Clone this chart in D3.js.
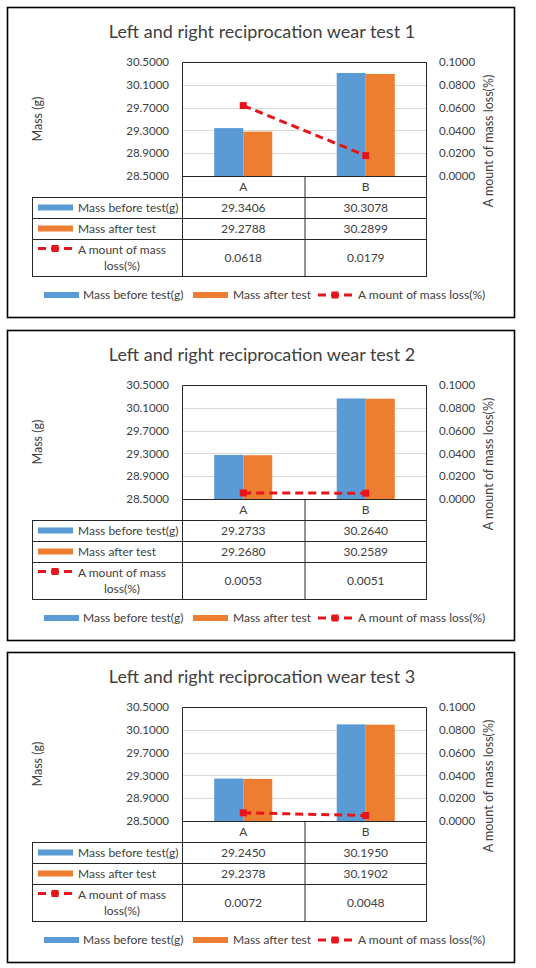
<!DOCTYPE html>
<html>
<head>
<meta charset="utf-8">
<script src="https://cdn.jsdelivr.net/npm/d3@7"></script>
<style>
  html, body { margin: 0; padding: 0; background: #fff; }
  svg { display: block; }
  text { font-family: Lato, "Open Sans", sans-serif; fill: #404040; }
</style>
</head>
<body>
<svg id="chart" width="536" height="968"></svg>
<script>
// ---- data ----
const categories = ["A", "B"];
const titles = [
  "Left and right reciprocation wear test 1",
  "Left and right reciprocation wear test 2",
  "Left and right reciprocation wear test 3"
];
const massBefore = [
  [29.3406, 30.3078],
  [29.2733, 30.2640],
  [29.2450, 30.1950]
];
const massAfter = [
  [29.2788, 30.2899],
  [29.2680, 30.2589],
  [29.2378, 30.1902]
];
const massLoss = [
  [0.0618, 0.0179],
  [0.0053, 0.0051],
  [0.0072, 0.0048]
];
const leftTicks = [28.5, 28.9, 29.3, 29.7, 30.1, 30.5];
const rightTicks = [0.0, 0.02, 0.04, 0.06, 0.08, 0.1];
const seriesNames = ["Mass before test(g)", "Mass after test", "A mount of mass loss(%)"];
const leftTitle = "Mass (g)";
const rightTitle = "A mount of mass loss(%)";

// ---- style / layout ----
const BLUE = "#5B9BD5", ORANGE = "#ED7D31", RED = "#E8141B", GRID = "#D9D9D9";
const panelTops = [7, 330, 652];
const panelH = 310;

const svg = d3.select("#chart");

panelTops.forEach((T, pi) => {
  const g = svg.append("g").attr("transform", `translate(0,${T})`);

  // frame
  g.append("rect").attr("x", 7.5).attr("y", 0.5).attr("width", 507).attr("height", panelH)
    .attr("fill", "#fff").attr("stroke", "#000").attr("stroke-width", 1.6);

  // title
  g.append("text").attr("x", 262).attr("y", 31).attr("text-anchor", "middle")
    .style("font-size", "18px").text(titles[pi]);

  const plotL = 182, plotR = 427, plotT = 55, plotB = 169;
  const x = d3.scaleBand().domain(categories).range([plotL, plotR]);
  const xs = d3.scaleBand().domain([0, 1]).range([0, x.bandwidth()]).paddingInner(0).paddingOuter(1.11);
  const yL = d3.scaleLinear().domain([28.5, 30.5]).range([plotB, plotT]);
  const yR = d3.scaleLinear().domain([0, 0.1]).range([plotB, plotT]);

  // gridlines
  g.append("g").selectAll("line").data(leftTicks.slice(1, -1)).join("line")
    .attr("x1", plotL).attr("x2", plotR)
    .attr("y1", d => Math.round(yL(d)) + 0.5).attr("y2", d => Math.round(yL(d)) + 0.5)
    .attr("stroke", GRID).attr("stroke-width", 1);

  // left axis
  const axL = d3.axisLeft(yL).tickValues(leftTicks).tickSize(0).tickPadding(13)
    .tickFormat(d3.format(".4f"));
  const gl = g.append("g").attr("transform", `translate(${plotL},0)`).call(axL);
  gl.select(".domain").remove();
  gl.selectAll("text").style("font-size", "11.5px").style("font-family", "Lato, sans-serif").attr("fill", "#404040");

  // right axis
  const axR = d3.axisRight(yR).tickValues(rightTicks).tickSize(0).tickPadding(12)
    .tickFormat(d3.format(".4f"));
  const gr = g.append("g").attr("transform", `translate(${plotR},0)`).call(axR);
  gr.select(".domain").remove();
  gr.selectAll("text").style("font-size", "11.5px").style("font-family", "Lato, sans-serif").attr("fill", "#404040");

  // axis titles
  g.append("text").attr("transform", `translate(42,${(plotT + plotB) / 2}) rotate(-90)`)
    .attr("text-anchor", "middle").style("font-size", "12.5px").text(leftTitle);
  g.append("text").attr("transform", `translate(493,134) rotate(-90)`)
    .attr("text-anchor", "middle").style("font-size", "12.5px").text(rightTitle);

  // bars
  const series = [massBefore[pi], massAfter[pi]];
  const colors = [BLUE, ORANGE];
  series.forEach((vals, si) => {
    g.append("g").selectAll("rect").data(categories).join("rect")
      .attr("x", (c) => x(c) + xs(si))
      .attr("width", xs.bandwidth())
      .attr("y", (c, i) => yL(vals[i]))
      .attr("height", (c, i) => plotB - yL(vals[i]))
      .attr("fill", colors[si]);
  });

  // loss line
  const pts = categories.map((c, i) => [x(c) + x.bandwidth() / 2, yR(massLoss[pi][i])]);
  g.append("path").attr("d", d3.line()(pts)).attr("fill", "none")
    .attr("stroke", RED).attr("stroke-width", 3).attr("stroke-dasharray", "8,5");
  g.append("g").selectAll("rect").data(pts).join("rect")
    .attr("x", d => d[0] - 3.5).attr("y", d => d[1] - 3.5).attr("width", 7).attr("height", 7)
    .attr("fill", RED);

  // plot box (top, left, right)
  g.append("path").attr("d", `M${plotL + 0.5},${plotB}V${plotT + 0.5}H${plotR - 0.5}V${plotB}`)
    .attr("fill", "none").attr("stroke", "#262626").attr("stroke-width", 1);

  // data table
  const rows = [plotB, 190, 211, 232, 269];
  const keyL = 32;
  const tg = g.append("g").attr("stroke", "#262626").attr("stroke-width", 1).attr("fill", "none");
  // header row
  tg.append("rect").attr("x", plotL + 0.5).attr("y", rows[0] + 0.5).attr("width", plotR - plotL - 1).attr("height", rows[1] - rows[0]);
  tg.append("rect").attr("x", keyL + 0.5).attr("y", rows[1] + 0.5).attr("width", plotR - keyL - 1).attr("height", rows[4] - rows[1]);
  [rows[2], rows[3]].forEach(yy => tg.append("line").attr("x1", keyL).attr("x2", plotR).attr("y1", yy + 0.5).attr("y2", yy + 0.5));
  tg.append("line").attr("x1", plotL + 0.5).attr("x2", plotL + 0.5).attr("y1", rows[1]).attr("y2", rows[4]);
  const midX = x(categories[1]);
  tg.append("line").attr("x1", midX + 0.5).attr("x2", midX + 0.5).attr("y1", rows[0]).attr("y2", rows[4]);

  // header labels
  g.append("g").selectAll("text").data(categories).join("text")
    .attr("x", c => x(c) + x.bandwidth() / 2).attr("y", (rows[0] + rows[1]) / 2 + 4)
    .attr("text-anchor", "middle").style("font-size", "12px").text(c => c);

  // table values
  const tableVals = [massBefore[pi], massAfter[pi], massLoss[pi]];
  tableVals.forEach((vals, ri) => {
    const cy = (rows[ri + 1] + rows[ri + 2]) / 2 + 4;
    g.append("g").selectAll("text").data(categories).join("text")
      .attr("x", c => x(c) + x.bandwidth() / 2).attr("y", cy)
      .attr("text-anchor", "middle").style("font-size", "12px")
      .text((c, i) => d3.format(".4f")(vals[i]));
  });

  // table keys
  [0, 1].forEach(ri => {
    const cy = (rows[ri + 1] + rows[ri + 2]) / 2;
    g.append("rect").attr("x", 38).attr("y", cy - 3).attr("width", 35).attr("height", 6).attr("fill", colors[ri]);
    g.append("text").attr("x", 78).attr("y", cy + 4).style("font-size", "12px").text(seriesNames[ri]);
  });
  {
    const cy = (rows[3] + rows[4]) / 2;
    drawLineKey(g, 38, cy - 9);
    const words = seriesNames[2].split(" ");
    g.append("text").attr("x", 122).attr("y", cy - 4).attr("text-anchor", "middle")
      .style("font-size", "12px").text(words.slice(0, 4).join(" "));
    g.append("text").attr("x", 122).attr("y", cy + 12).attr("text-anchor", "middle")
      .style("font-size", "12px").text(words.slice(4).join(" "));
  }

  // legend
  const ly = 288;
  g.append("rect").attr("x", 44).attr("y", ly - 3).attr("width", 35).attr("height", 6).attr("fill", BLUE);
  g.append("text").attr("x", 83).attr("y", ly + 4).style("font-size", "12px").text(seriesNames[0]);
  g.append("rect").attr("x", 193).attr("y", ly - 3).attr("width", 35).attr("height", 6).attr("fill", ORANGE);
  g.append("text").attr("x", 233).attr("y", ly + 4).style("font-size", "12px").text(seriesNames[1]);
  drawLineKey(g, 318, ly);
  g.append("text").attr("x", 358).attr("y", ly + 4).style("font-size", "12px").text(seriesNames[2]);
});

function drawLineKey(g, x0, cy) {
  g.append("line").attr("x1", x0).attr("x2", x0 + 34).attr("y1", cy).attr("y2", cy)
    .attr("stroke", RED).attr("stroke-width", 3).attr("stroke-dasharray", "8,5");
  g.append("rect").attr("x", x0 + 13.5).attr("y", cy - 3.5).attr("width", 7).attr("height", 7).attr("fill", RED);
}
</script>
</body>
</html>
